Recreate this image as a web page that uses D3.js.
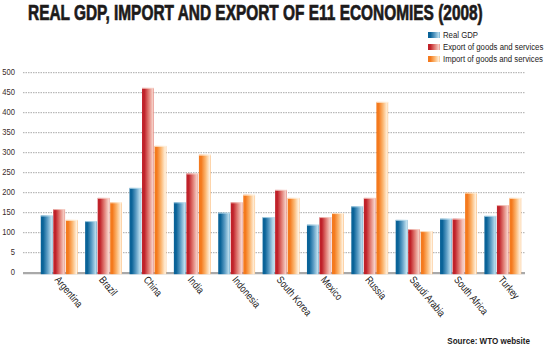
<!DOCTYPE html>
<html><head><meta charset="utf-8">
<script src="https://cdn.jsdelivr.net/npm/d3@7"></script>
<style>body{margin:0;background:#fff}svg{display:block}</style>
</head><body><svg id="c" width="550" height="349"></svg>
<script>
const categories = ["Argentina","Brazil","China","India","Indonesia","South Korea","Mexico","Russia","Saudi Arabia","South Africa","Turkey"];
const seriesNames = ["Real GDP","Export of goods and services","Import of goods and services"];
const realGDP = [143,129,212,176,150,139,120,166,132,135,142];
const exportGS = [159,187,462,248,176,207,139,187,109,135,169];
const importGS = [132,176,317,295,195,187,149,427,104,200,187];
const tickValues = [0,50,100,150,200,250,300,350,400,450,500];
const tickLabels = ["0","5","100","150","200","250","300","350","400","450","500"];

const FONT = "'Liberation Sans',Arial,sans-serif";
const svg = d3.select("#c");
const colors = [["#0a6398","#5b9cc4","#bfe0ef"],["#c0222a","#e07a72","#f7d3ca"],["#f47a1e","#fbb56f","#fff2e0"]];
const defs = svg.append("defs");
colors.forEach((c,i)=>{
  const g = defs.append("linearGradient").attr("id","g"+i).attr("x1","0").attr("x2","1").attr("y1","0").attr("y2","0");
  g.append("stop").attr("offset","0").attr("stop-color",c[0]);
  g.append("stop").attr("offset","0.2").attr("stop-color",c[0]);
  g.append("stop").attr("offset","0.55").attr("stop-color",c[1]);
  g.append("stop").attr("offset","0.92").attr("stop-color",c[2]);
  g.append("stop").attr("offset","1").attr("stop-color",c[1]);
});

const y = d3.scaleLinear().domain([0,500]).range([272.7,72.7]);
const x0 = d3.scaleBand().domain(categories).range([37,525]).paddingInner(0.17).paddingOuter(0.085);
const x1 = d3.scaleBand().domain(seriesNames).range([0,x0.bandwidth()]).paddingInner(0.06);

// title (condensed by horizontal scaling to its measured width)
const title = svg.append("text").attr("x",0).attr("y",0)
  .style("font-family",FONT).style("font-weight","bold")
  .style("font-size","21.5px").attr("fill","#1c1a1a").attr("stroke","#1c1a1a").attr("stroke-width",0.7)
  .text("REAL GDP, IMPORT AND EXPORT OF E11 ECONOMIES (2008)");
const tw = title.node().getComputedTextLength();
title.attr("transform",`translate(28,19.5) scale(${455/tw},1)`);

// gridlines
svg.append("g").selectAll("line").data(tickValues.filter(d=>d>0)).join("line")
  .attr("x1",23).attr("x2",525).attr("y1",d=>y(d)).attr("y2",d=>y(d))
  .attr("stroke","#a8a8a8").attr("stroke-width",1).attr("stroke-dasharray","1.5,1");
// baseline
svg.append("line").attr("x1",23).attr("x2",525).attr("y1",y(0)+0.5).attr("y2",y(0)+0.5)
  .attr("stroke","#a9a9a9").attr("stroke-width",2.2);

// y labels
svg.append("g").selectAll("text").data(tickValues).join("text")
  .attr("transform",d=>`translate(15,${y(d)-0.5}) scale(0.8,1)`).attr("text-anchor","end").attr("dominant-baseline","middle")
  .style("font-family",FONT).style("font-size","9.5px")
  .attr("fill","#3a2a2a").text((d,i)=>tickLabels[i]);

// bars
const data = categories.map((c,i)=>({c, v:[realGDP[i],exportGS[i],importGS[i]]}));
const grp = svg.append("g").selectAll("g").data(data).join("g").attr("transform",d=>`translate(${x0(d.c)},0)`);
grp.selectAll("rect").data(d=>d.v.map((v,i)=>({v,i}))).join("rect")
  .attr("x",d=>x1(seriesNames[d.i])).attr("width",x1.bandwidth())
  .attr("y",d=>y(d.v)).attr("height",d=>y(0)+1.5-y(d.v))
  .attr("fill",d=>`url(#g${d.i})`);
grp.selectAll("line.top").data(d=>d.v.map((v,i)=>({v,i}))).join("line").attr("class","top")
  .attr("x1",d=>x1(seriesNames[d.i])).attr("x2",d=>x1(seriesNames[d.i])+x1.bandwidth())
  .attr("y1",d=>y(d.v)+0.5).attr("y2",d=>y(d.v)+0.5)
  .attr("stroke",d=>colors[d.i][2]).attr("stroke-width",1).attr("opacity",0.8);

// x labels
svg.append("g").selectAll("text").data(categories).join("text")
  .attr("transform",d=>`translate(${x0(d)+x0.bandwidth()/2-5},${280}) rotate(50) scale(0.82,1)`)
  .style("font-family",FONT).style("font-size","10.5px")
  .attr("fill","#1c1a1a").text(d=>d);

// legend
const lg = svg.append("g").selectAll("g").data(seriesNames).join("g")
  .attr("transform",(d,i)=>`translate(428,${35+i*12})`);
lg.append("rect").attr("x",0).attr("y",-3).attr("width",12).attr("height",6).attr("fill",(d,i)=>`url(#g${i})`);
lg.append("text").attr("transform","translate(15,0) scale(0.82,1)").attr("dominant-baseline","middle")
  .style("font-family",FONT).style("font-size","9.5px")
  .attr("fill","#1c1a1a").text(d=>d);

// source
svg.append("text").attr("transform","translate(530,344) scale(0.85,1)").attr("text-anchor","end")
  .style("font-family",FONT).style("font-weight","bold").style("font-size","9.5px")
  .attr("fill","#1c1a1a").text("Source: WTO website");
</script></body></html>
